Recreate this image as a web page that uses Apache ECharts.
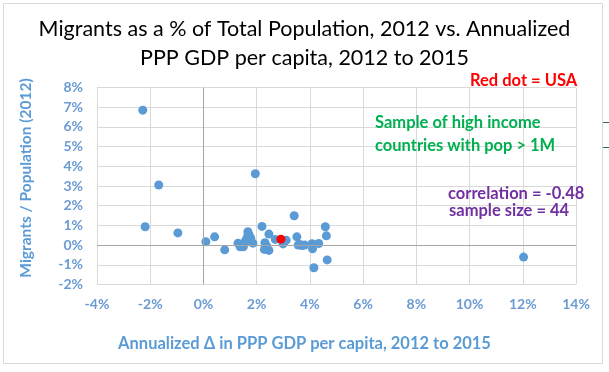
<!DOCTYPE html>
<html>
<head>
<meta charset="utf-8">
<script src="https://cdn.jsdelivr.net/npm/echarts@6/dist/echarts.min.js"></script>
<style>
html,body{margin:0;padding:0;background:#fff;}
#c{width:609px;height:372px;}
</style>
</head>
<body>
<div id="c"></div>
<script>
const titleLines = ['Migrants as a % of Total Population, 2012 vs. Annualized', 'PPP GDP per capita, 2012 to 2015'];
const xAxisName = 'Annualized \u0394 in PPP GDP per capita, 2012 to 2015';
const yAxisName = 'Migrants / Population (2012)';
// [annualized GDP growth %, migrants % of population]
const countries = [
  [-2.28, 6.85], [-1.68, 3.05], [-2.19, 0.93], [-0.96, 0.62], [0.09, 0.17],
  [0.42, 0.42], [0.80, -0.24], [1.95, 3.62], [1.30, 0.10], [1.38, -0.09],
  [1.50, -0.09], [1.67, 0.68], [1.66, 0.45], [1.60, 0.27], [1.78, 0.34],
  [1.86, 0.10], [2.20, 0.95], [2.46, 0.56], [2.31, 0.12], [2.29, -0.22],
  [2.46, -0.27], [2.70, 0.29], [3.11, 0.25], [2.99, 0.06], [3.41, 1.49],
  [3.51, 0.42], [3.56, 0.00], [3.70, -0.02], [3.80, 0.00], [4.08, 0.07],
  [4.10, -0.19], [4.33, 0.08], [4.15, -1.15], [4.58, 0.93], [4.62, 0.47],
  [4.65, -0.75], [12.03, -0.61], [1.42, 0.02], [1.55, 0.12], [2.38, -0.05],
  [3.62, 0.03], [1.72, 0.52], [3.02, 0.14]
];
const usa = [[2.91, 0.30]];
const notes = {
  usa: 'Red dot = USA',
  sample1: 'Sample of high income',
  sample2: 'countries with pop > 1M',
  corr: 'correlation = -0.48',
  size: 'sample size = 44'
};

const chart = echarts.init(document.getElementById('c'), null, {renderer: 'canvas'});
const F = 'Lato, "Open Sans", sans-serif';
const blue = '#6a9bd3';
function note(text, x, y, color) {
  return {type: 'text', x: x, y: y, z: 10,
    style: {text: text, fill: color, font: 'bold 16.5px ' + F, verticalAlign: 'middle', align: 'left'}};
}
chart.setOption({
  animation: false,
  backgroundColor: '#fff',
  title: {
    text: titleLines.join('\n'),
    left: 'center', top: 10,
    textStyle: {fontFamily: F, fontSize: 21.5, fontWeight: 'normal', color: '#000', lineHeight: 29}
  },
  grid: {left: 97, right: 33, top: 87.5, bottom: 87.5, containLabel: false},
  xAxis: {
    type: 'value', min: -4, max: 14, interval: 2,
    name: xAxisName, nameLocation: 'middle', nameGap: 51,
    nameTextStyle: {fontFamily: F, fontSize: 16.5, fontWeight: 'bold', color: '#5b9bd5', padding: [0, 64, 0, 0]},
    axisLine: {show: false}, axisTick: {show: false},
    axisLabel: {formatter: '{value}%', fontFamily: F, fontSize: 14, fontWeight: 'bold', color: blue, margin: 13},
    splitLine: {show: true, lineStyle: {color: '#d9d9d9', width: 1}}
  },
  yAxis: {
    type: 'value', min: -2, max: 8, interval: 1,
    name: yAxisName, nameLocation: 'middle', nameGap: 63, nameRotate: 90,
    nameTextStyle: {fontFamily: F, fontSize: 15.5, fontWeight: 'bold', color: '#5b9bd5', padding: [0, 0, 0, 16]},
    axisLine: {show: false}, axisTick: {show: false},
    axisLabel: {formatter: '{value}%', fontFamily: F, fontSize: 14, fontWeight: 'bold', color: blue, margin: 14},
    splitLine: {show: true, lineStyle: {color: '#d9d9d9', width: 1}}
  },
  series: [
    {
      type: 'scatter', data: countries, symbolSize: 9, z: 3,
      itemStyle: {color: '#5b9bd5', opacity: 1},
      markLine: {
        silent: true, symbol: 'none', label: {show: false},
        lineStyle: {color: '#a6a6a6', width: 1, type: 'solid'},
        data: [{xAxis: 0}, {yAxis: 0}]
      }
    },
    {
      type: 'scatter', data: usa, symbolSize: 9, z: 4,
      itemStyle: {color: '#ff0000', opacity: 1}
    }
  ],
  graphic: [
    {type: 'rect', shape: {x: 3.5, y: 3.5, width: 599, height: 360}, style: {fill: 'none', stroke: '#d9d9d9', lineWidth: 1}, z: -1},
    {type: 'line', shape: {x1: 603, y1: 122.5, x2: 609, y2: 122.5}, style: {stroke: '#3a6b55', lineWidth: 1}},
    {type: 'line', shape: {x1: 603, y1: 147.5, x2: 609, y2: 147.5}, style: {stroke: '#3a6b55', lineWidth: 1}},
    note(notes.usa, 470, 81, '#ff0000'),
    note(notes.sample1, 375, 123, '#00b050'),
    note(notes.sample2, 375, 146, '#00b050'),
    note(notes.corr, 448, 194, '#7030a0'),
    note(notes.size, 449, 211, '#7030a0')
  ]
});
</script>
</body>
</html>
